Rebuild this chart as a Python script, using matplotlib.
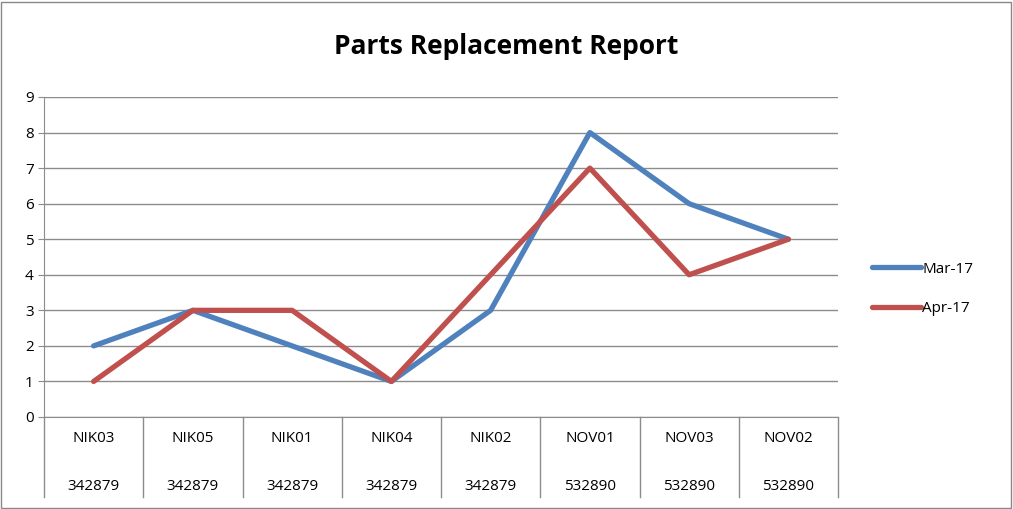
import matplotlib
matplotlib.use("Agg")
import matplotlib.pyplot as plt

parts = ["NIK03", "NIK05", "NIK01", "NIK04", "NIK02", "NOV01", "NOV03", "NOV02"]
groups = ["342879", "342879", "342879", "342879", "342879", "532890", "532890", "532890"]
mar17 = [2, 3, 2, 1, 3, 8, 6, 5]
apr17 = [1, 3, 3, 1, 4, 7, 4, 5]

plt.rcParams['font.family'] = ['Open Sans', 'DejaVu Sans']
fig = plt.figure(figsize=(10.13, 5.09), dpi=100)
fig.patches.append(plt.Rectangle((0.001, 0.002), 0.997, 0.995, transform=fig.transFigure,
                                 fill=False, edgecolor='#888888', lw=1))
ax = fig.add_axes([44/1013, 1-417/509, (838-44)/1013, (417-97)/509])
x = [i + 0.5 for i in range(len(parts))]
ax.plot(x, mar17, color='#4F81BD', lw=3.8, label='Mar-17', solid_capstyle='round')
ax.plot(x, apr17, color='#C0504D', lw=3.8, label='Apr-17', solid_capstyle='round')
ax.set_xlim(0, 8)
ax.set_ylim(0, 9)
ax.set_yticks(range(10))
ax.yaxis.grid(True, color='#8c8c8c', lw=1)
ax.set_axisbelow(True)
for s in ['top', 'right']:
    ax.spines[s].set_visible(False)
ax.spines['left'].set_color('#8c8c8c')
ax.spines['bottom'].set_color('#8c8c8c')
ax.tick_params(axis='y', length=4, color='#8c8c8c', labelsize=11)
ax.set_xticks([])
tr = ax.transAxes
h1 = 43/320
h2 = 80/320
for i in range(9):
    ax.plot([i/8, i/8], [0, -h2], transform=tr, clip_on=False, color='#8c8c8c', lw=1)
for i, (p, g) in enumerate(zip(parts, groups)):
    ax.text((i+0.5)/8, -21/320, p, transform=tr, ha='center', va='center', fontsize=11)
    ax.text((i+0.5)/8, -69/320, g, transform=tr, ha='center', va='center', fontsize=11)
fig.text(0.5, 1-47/509, 'Parts Replacement Report', ha='center', va='center',
         fontsize=19, fontweight='bold')
ax.legend(loc='center left', bbox_to_anchor=(858/1013, 1-289/509), bbox_transform=fig.transFigure,
          frameon=False, fontsize=11, handlelength=3.2, labelspacing=1.6, handletextpad=0.1)
fig.savefig('out.png', dpi=100)
